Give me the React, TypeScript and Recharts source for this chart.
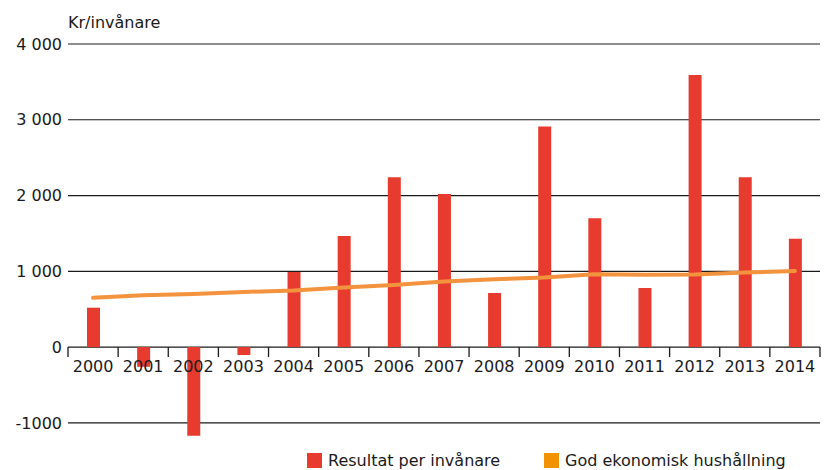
import React from 'react';
import {
  ComposedChart,
  Bar,
  Line,
  XAxis,
  YAxis,
  CartesianGrid,
  Legend,
} from 'recharts';

// Values
const years = ['2000', '2001', '2002', '2003', '2004', '2005', '2006', '2007', '2008', '2009', '2010', '2011', '2012', '2013', '2014'];
const resultatPerInvanare = [520, -260, -1170, -105, 990, 1465, 2240, 2020, 714, 2910, 1700, 780, 3590, 2240, 1430];
const godEkonomiskHushallning = [650, 684, 701, 728, 746, 786, 820, 865, 895, 918, 962, 955, 958, 984, 1005];
const yTicks = [-1000, 0, 1000, 2000, 3000, 4000];
const yTickLabels = ['-1000', '0', '1 000', '2 000', '3 000', '4 000'];

const data = years.map((year, i) => ({
  year,
  resultat: resultatPerInvanare[i],
  god: godEkonomiskHushallning[i],
}));

const FONT = '"DejaVu Sans", sans-serif';
const TEXT = '#1a1a1a';
const RED = '#e63b2e';
const ORANGE_LINE = '#f4933e';
const ORANGE_KEY = '#f39200';

// domain runs a little below the last gridline so the 2002 bar fits
const Y_MIN = -1200;
const Y_MAX = 4000;
const PLOT_TOP = 44;
const PLOT_BOTTOM = 438;
const ZERO_Y = PLOT_TOP + ((Y_MAX - 0) / (Y_MAX - Y_MIN)) * (PLOT_BOTTOM - PLOT_TOP);

// x-axis drawn along the zero line, tick marks on the category boundaries
const YearTick = (props: any) => {
  const { x, payload, index, visibleTicksCount, width } = props;
  const count = visibleTicksCount || years.length;
  const band = (width || 752) / count;
  const left = x - band / 2;
  return (
    <g>
      <line x1={left} x2={left} y1={ZERO_Y} y2={ZERO_Y + 10} stroke={TEXT} strokeWidth={1.3} />
      {index === count - 1 && (
        <line x1={x + band / 2} x2={x + band / 2} y1={ZERO_Y} y2={ZERO_Y + 10} stroke={TEXT} strokeWidth={1.3} />
      )}
      <text x={x} y={ZERO_Y + 25} textAnchor="middle" fontSize={16} fontFamily={FONT} fill={TEXT}>
        {payload.value}
      </text>
    </g>
  );
};

const legendItems = [
  { name: 'Resultat per invånare', color: RED, width: 237 },
  { name: 'God ekonomisk hushållning', color: ORANGE_KEY, width: 280 },
];

const ChartLegend = () => (
  <div style={{ display: 'flex', paddingLeft: 307, fontFamily: FONT, fontSize: 16, color: TEXT }}>
    {legendItems.map((item) => (
      <div key={item.name} style={{ display: 'flex', alignItems: 'center', width: item.width }}>
        <span style={{ width: 15, height: 15, background: item.color, marginRight: 6, flex: 'none' }} />
        <span style={{ whiteSpace: 'nowrap' }}>{item.name}</span>
      </div>
    ))}
  </div>
);

export default function App() {
  return (
    <div style={{ position: 'absolute', left: 0, top: 0, width: 830, height: 470, background: '#fff', overflow: 'hidden' }}>
      <div style={{ position: 'absolute', left: 68, top: 13, fontFamily: FONT, fontSize: 16, color: TEXT, zIndex: 2 }}>
        Kr/invånare
      </div>
      <ComposedChart
        width={830}
        height={470}
        data={data}
        margin={{ top: PLOT_TOP, right: 10, left: 0, bottom: 11 }}
        barCategoryGap={0}
      >
        <CartesianGrid vertical={false} horizontalValues={yTicks} stroke={TEXT} strokeWidth={1.2} />
        <XAxis
          dataKey="year"
          height={1}
          axisLine={false}
          tickLine={false}
          interval={0}
          tick={<YearTick />}
        />
        <YAxis
          width={68}
          domain={[Y_MIN, Y_MAX]}
          allowDataOverflow
          ticks={yTicks}
          axisLine={false}
          tickLine={false}
          tickSize={0}
          tickMargin={6}
          tickFormatter={(v: number) => yTickLabels[yTicks.indexOf(v)]}
          tick={{ fontSize: 16, fontFamily: FONT, fill: TEXT }}
        />
        <Bar dataKey="resultat" name="Resultat per invånare" fill={RED} barSize={13} isAnimationActive={false} />
        <Line
          dataKey="god"
          name="God ekonomisk hushållning"
          type="linear"
          stroke={ORANGE_LINE}
          strokeWidth={4}
          strokeLinecap="round"
          dot={false}
          activeDot={false}
          isAnimationActive={false}
        />
        <Legend
          verticalAlign="bottom"
          content={<ChartLegend />}
          wrapperStyle={{ top: 451, left: 0, bottom: 'auto', width: 830, height: 20 }}
        />
      </ComposedChart>
    </div>
  );
}
